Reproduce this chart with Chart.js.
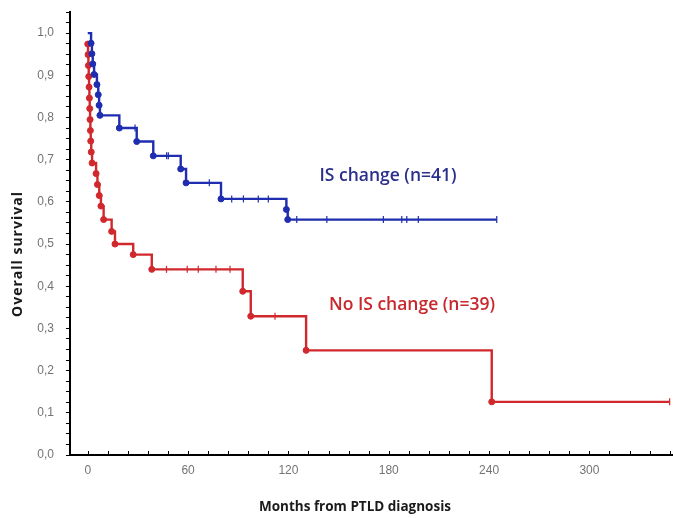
<!DOCTYPE html>
<html><head><meta charset="utf-8">
<script src="https://cdn.jsdelivr.net/npm/chart.js@4/dist/chart.umd.min.js"></script>
<style>html,body{margin:0;padding:0;background:#fff;} canvas{display:block;}</style>
</head><body>
<canvas id="c" width="673" height="518"></canvas>
<script>
// Tick labels
const xLabelValues = [0, 60, 120, 180, 240, 300];
const yLabelValues = [0.0, 0.1, 0.2, 0.3, 0.4, 0.5, 0.6, 0.7, 0.8, 0.9, 1.0];

// IS change (n=41): event times (months) and survival after each event
const isTimes = [0, 2.0, 2.5, 3.0, 3.8, 5.5, 6.3, 6.8, 7.3, 18.9, 29.3, 39.2, 55.6, 58.8, 79.7, 118.8, 119.6, 244.6];
const isSurv  = [1.0, 0.976, 0.951, 0.927, 0.902, 0.878, 0.854, 0.829, 0.805, 0.775, 0.743, 0.709, 0.678, 0.645, 0.607, 0.582, 0.558, 0.558];
const isCensored = [28.3, 47.2, 48.2, 72.7, 86.1, 93.1, 102.0, 108.0, 125.0, 143.0, 176.8, 187.8, 190.8, 197.7, 244.6];

// No IS change (n=39)
const noTimes = [0, 0.2, 0.4, 0.6, 0.8, 1.0, 1.2, 1.4, 1.6, 1.8, 2.1, 2.6, 5.0, 5.8, 6.9, 7.9, 9.5, 14.3, 16.3, 27.2, 38.3, 92.7, 97.5, 130.6, 241.6, 348.0];
const noSurv  = [0.974, 0.949, 0.923, 0.897, 0.872, 0.846, 0.821, 0.795, 0.769, 0.744, 0.718, 0.692, 0.667, 0.641, 0.615, 0.590, 0.558, 0.530, 0.500, 0.475, 0.440, 0.388, 0.329, 0.248, 0.126, 0.126];
const noCensored = [47.1, 59.5, 66.1, 76.7, 85.1, 112.0, 348.0];

const BLUE = '#1f2db0';
const RED = '#d0282c';

function survAt(times, surv, t) {
  let s = surv[0];
  for (let i = 0; i < times.length; i++) { if (times[i] <= t) s = surv[i]; }
  return s;
}
const pts = (t, s) => t.map((v, i) => ({x: v, y: s[i]}));

const xMinor = []; for (let v = 0; v <= 348; v += 12) xMinor.push(v);
const yMinor = []; for (let i = 0; i <= 42; i++) yMinor.push(Math.round(i * 25) / 1000);

function noPad(s) { s.paddingTop = 0; s.paddingBottom = 0; s.paddingLeft = 0; s.paddingRight = 0; }

const decor = {
  id: 'decor',
  beforeDatasetsDraw(chart) {
    const ctx = chart.ctx, xs = chart.scales.x, b = chart.chartArea.bottom;
    ctx.save();
    ctx.strokeStyle = '#000'; ctx.lineWidth = 1;
    ctx.beginPath();
    xMinor.forEach(v => { const px = Math.round(xs.getPixelForValue(v)) + 0.5; ctx.moveTo(px, b); ctx.lineTo(px, b - 4); });
    ctx.stroke();
    ctx.restore();
  },
  afterDraw(chart) {
    const ctx = chart.ctx;
    ctx.save();
    ctx.textAlign = 'center'; ctx.textBaseline = 'middle';
    ctx.fillStyle = '#1a1a1a';
    ctx.font = 'bold 14px "Open Sans"';
    ctx.save(); ctx.translate(18, 254); ctx.rotate(-Math.PI / 2);
    ctx.letterSpacing = '1px';
    ctx.fillText('Overall survival', 0, 0); ctx.restore();
    ctx.font = 'bold 13.5px "Open Sans"';
    ctx.fillText('Months from PTLD diagnosis', 355, 507);
    ctx.font = '600 17.5px "Open Sans"';
    ctx.fillStyle = '#2b2f8c';
    ctx.fillText('IS change (n=41)', 388, 176);
    ctx.fillStyle = '#c8282d';
    ctx.fillText('No IS change (n=39)', 412, 305);
    ctx.restore();
  }
};

new Chart(document.getElementById('c'), {
  type: 'line',
  data: {
    datasets: [
      {
        data: pts(isTimes, isSurv), stepped: true, borderColor: BLUE, backgroundColor: BLUE,
        borderWidth: 2.4, fill: false,
        pointRadius: c => (c.dataIndex === 0 || c.dataIndex === isTimes.length - 1) ? 0 : 3,
        pointBorderWidth: 1, pointBorderColor: BLUE, pointBackgroundColor: BLUE
      },
      {
        data: isCensored.map(t => ({x: t, y: survAt(isTimes, isSurv, t)})), showLine: false,
        pointStyle: 'line', rotation: 90, pointRadius: 3.5, pointBorderWidth: 1.2, borderColor: BLUE, pointBorderColor: BLUE
      },
      {
        data: pts(noTimes, noSurv), stepped: true, borderColor: RED, backgroundColor: RED,
        borderWidth: 2.4, fill: false,
        pointRadius: c => (c.dataIndex === noTimes.length - 1) ? 0 : 3,
        pointBorderWidth: 1, pointBorderColor: RED, pointBackgroundColor: RED
      },
      {
        data: noCensored.map(t => ({x: t, y: survAt(noTimes, noSurv, t)})), showLine: false,
        pointStyle: 'line', rotation: 90, pointRadius: 3.5, pointBorderWidth: 1.2, borderColor: RED, pointBorderColor: RED
      }
    ]
  },
  options: {
    responsive: false, animation: false, devicePixelRatio: 1,
    layout: {autoPadding: false, padding: {top: 12, right: 0, left: 0, bottom: 0}},
    plugins: {legend: {display: false}, tooltip: {enabled: false}},
    scales: {
      x: {
        type: 'linear', min: -10.6, max: 350,
        afterBuildTicks: s => { s.ticks = xMinor.map(v => ({value: v})); },
        afterFit: s => { s.height = 63; noPad(s); },
        ticks: {
          autoSkip: false, maxRotation: 0, padding: 8, color: '#737373',
          font: {family: '"Liberation Sans", Arial, sans-serif', size: 12},
          callback: v => xLabelValues.includes(v) ? String(v) : ''
        },
        grid: {display: false, drawTicks: false, tickLength: 0},
        border: {display: true, color: '#000', width: 2}
      },
      y: {
        type: 'linear', min: 0, max: 1.05,
        afterBuildTicks: s => { s.ticks = yMinor.map(v => ({value: v})); },
        afterFit: s => { s.width = 70; noPad(s); },
        ticks: {
          autoSkip: false, padding: 12, color: '#737373',
          font: {family: '"Liberation Sans", Arial, sans-serif', size: 12},
          callback: v => yLabelValues.some(l => Math.abs(l - v) < 1e-6) ? v.toFixed(1).replace('.', ',') : ''
        },
        grid: {display: true, drawOnChartArea: false, drawTicks: true, tickLength: 4, color: '#000', lineWidth: 1},
        border: {display: true, color: '#000', width: 2}
      }
    }
  },
  plugins: [decor]
});
</script>
</body></html>
